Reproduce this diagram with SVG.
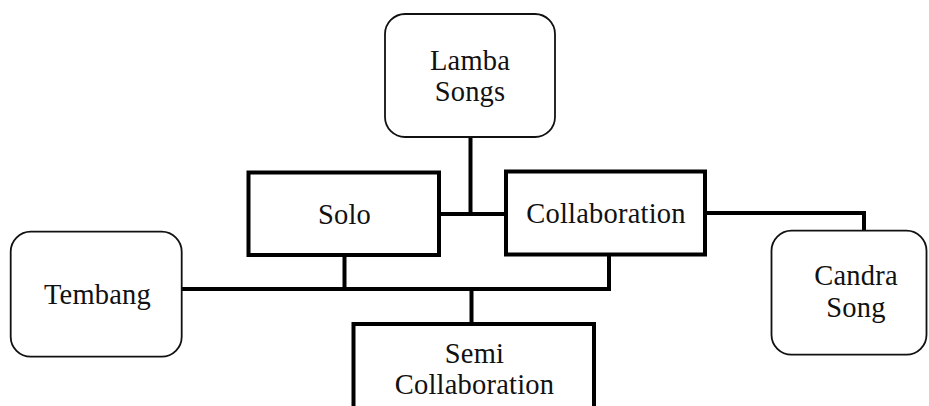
<svg xmlns="http://www.w3.org/2000/svg" width="929" height="406" viewBox="0 0 929 406">
<style>
.rnd{fill:#fff;stroke:#111;stroke-width:1.8}
.sq{fill:#fff;stroke:#000;stroke-width:4}
.lbl{font-family:"Liberation Serif","Times New Roman",serif;font-size:28.5px;fill:#111;text-anchor:middle;letter-spacing:0.2px}
.con{fill:none;stroke:#000;stroke-width:4;stroke-linejoin:miter;stroke-linecap:butt}
</style>
<rect width="929" height="406" fill="#fff"/>
<g id="connectors">
<path class="con" d="M470.5,137 V214"/>
<path class="con" d="M439,214 H506"/>
<path class="con" d="M705,213 H864 V231"/>
<path class="con" d="M181.5,289 H609 V254"/>
<path class="con" d="M344.5,255 V289"/>
<path class="con" d="M471.5,289 V324"/>
</g>
<g id="lamba">
<rect class="rnd" x="385" y="14" width="170" height="123" rx="20"/>
<text class="lbl" x="470" y="70">Lamba</text>
<text class="lbl" x="470" y="101">Songs</text>
</g>
<g id="solo">
<rect class="sq" x="248.5" y="172.5" width="190.5" height="82.5"/>
<text class="lbl" x="344.5" y="224">Solo</text>
</g>
<g id="collaboration">
<rect class="sq" x="506" y="171.5" width="199" height="83"/>
<text class="lbl" x="606" y="223">Collaboration</text>
</g>
<g id="tembang">
<rect class="rnd" x="10.7" y="231.7" width="171" height="125" rx="20"/>
<text class="lbl" x="97.5" y="303.5">Tembang</text>
</g>
<g id="candra">
<rect class="rnd" x="771.5" y="230.7" width="155" height="124" rx="20"/>
<text class="lbl" x="856" y="285">Candra</text>
<text class="lbl" x="856" y="317">Song</text>
</g>
<g id="semi">
<rect class="sq" x="353.5" y="324" width="240.5" height="100"/>
<text class="lbl" x="474.5" y="363">Semi</text>
<text class="lbl" x="474.5" y="394">Collaboration</text>
</g>
</svg>
